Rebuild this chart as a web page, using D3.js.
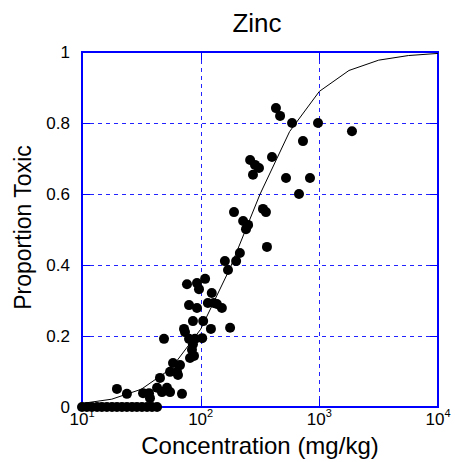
<!DOCTYPE html>
<html>
<head>
<meta charset="utf-8">
<script src="https://cdn.jsdelivr.net/npm/d3@7"></script>
<style>
  body { margin: 0; background: #fff; }
  text { font-family: "Liberation Sans", Arial, sans-serif; fill: #000; }
</style>
</head>
<body>
<svg id="chart"></svg>
<script>
// observed samples: concentration (mg/kg) and proportion toxic
var concentration = [
    10.0, 11.0, 12.1, 13.4, 14.7, 16.2, 17.9, 19.7, 21.7, 23.9, 26.4, 29.0, 32.0, 35.3, 38.9, 42.9,
    431, 467, 589, 975, 1884, 728, 261, 399, 287, 310, 276, 524, 834, 674,
    335, 355, 191, 228, 251, 241, 362, 214, 160, 199, 170,
    76.7, 93.1, 109, 96.8, 124, 79.8, 93.1, 115, 129, 137, 151,
    86.1, 105, 122, 177, 72.4, 73.8, 49.1, 79.8, 89.6, 103,
    86.1, 84.5, 87.9, 81.3, 58.5, 67.0, 55.2, 63.2, 64.4, 45.4,
    42.9, 52.0, 47.2, 55.2, 69.6, 19.7, 23.9, 32.7, 36.7, 37.4
];
var proportion = [
    0, 0, 0, 0, 0, 0, 0, 0, 0, 0, 0, 0, 0, 0, 0, 0,
    0.842, 0.820, 0.800, 0.800, 0.777, 0.749, 0.696, 0.704, 0.682, 0.673, 0.654, 0.645, 0.645, 0.600,
    0.558, 0.549, 0.549, 0.524, 0.513, 0.501, 0.451, 0.434, 0.411, 0.411, 0.386,
    0.346, 0.349, 0.361, 0.332, 0.321, 0.287, 0.279, 0.293, 0.293, 0.290, 0.279,
    0.242, 0.242, 0.220, 0.223, 0.220, 0.211, 0.192, 0.192, 0.192, 0.194,
    0.177, 0.161, 0.144, 0.138, 0.124, 0.118, 0.099, 0.099, 0.090, 0.082,
    0.054, 0.054, 0.042, 0.042, 0.037, 0.051, 0.037, 0.039, 0.039, 0.025
];

// fitted response curve
var curveConc = [10, 17.8, 31.6, 56.2, 100, 178, 316, 562, 1000, 1778, 3162, 5623, 10000];
var curveProp = [0.010, 0.022, 0.050, 0.108, 0.219, 0.393, 0.599, 0.776, 0.889, 0.948, 0.977, 0.990, 0.996];

var xTicks = [10, 100, 1000, 10000];
var yTicks = [0, 0.2, 0.4, 0.6, 0.8, 1];

var margin = {top: 52, right: 17, bottom: 55, left: 82};
var width = 455 - margin.left - margin.right;
var height = 462 - margin.top - margin.bottom;

var svg = d3.select("#chart")
    .attr("width", 455)
    .attr("height", 462);

var g = svg.append("g")
    .attr("transform", "translate(" + margin.left + "," + margin.top + ")");

var x = d3.scaleLog().domain([10, 10000]).range([0, width]);
var y = d3.scaleLinear().domain([0, 1]).range([height, 0]);

// dashed grid
g.selectAll(".vgrid").data(xTicks.slice(1, -1)).enter()
    .append("line")
    .attr("x1", function (d) {return Math.round(x(d)) + 0.5;})
    .attr("x2", function (d) {return Math.round(x(d)) + 0.5;})
    .attr("y1", 0)
    .attr("y2", height)
    .attr("stroke", "#2222ff")
    .attr("stroke-dasharray", "4,4");

g.selectAll(".hgrid").data(yTicks.slice(1, -1)).enter()
    .append("line")
    .attr("x1", 0)
    .attr("x2", width)
    .attr("y1", function (d) {return Math.round(y(d)) + 0.5;})
    .attr("y2", function (d) {return Math.round(y(d)) + 0.5;})
    .attr("stroke", "#2222ff")
    .attr("stroke-dasharray", "4,4");

// inner tick marks on all four sides
var tl = 8;
yTicks.forEach(function (d) {
    var yy = Math.round(y(d)) + 0.5;
    g.append("line").attr("x1", 0).attr("x2", tl).attr("y1", yy).attr("y2", yy).attr("stroke", "#0000ff");
    g.append("line").attr("x1", width - tl).attr("x2", width).attr("y1", yy).attr("y2", yy).attr("stroke", "#0000ff");
});
xTicks.forEach(function (d) {
    var xx = Math.round(x(d)) + 0.5;
    g.append("line").attr("x1", xx).attr("x2", xx).attr("y1", 0).attr("y2", tl).attr("stroke", "#0000ff");
    g.append("line").attr("x1", xx).attr("x2", xx).attr("y1", height - tl).attr("y2", height).attr("stroke", "#0000ff");
});

// frame
g.append("rect")
    .attr("width", width)
    .attr("height", height)
    .attr("fill", "none")
    .attr("stroke", "#0000ff")
    .attr("stroke-width", 2);

// fitted curve
var line = d3.line()
    .x(function (d) {return x(d[0]);})
    .y(function (d) {return y(d[1]);});

g.append("path")
    .datum(d3.zip(curveConc, curveProp))
    .attr("d", line)
    .attr("fill", "none")
    .attr("stroke", "#000")
    .attr("stroke-width", 1);

// points
g.selectAll(".pt").data(d3.zip(concentration, proportion)).enter()
    .append("circle")
    .attr("cx", function (d) {return x(d[0]);})
    .attr("cy", function (d) {return y(d[1]);})
    .attr("r", 5)
    .attr("fill", "#000");

// y tick labels
g.selectAll(".ylab").data(yTicks).enter()
    .append("text")
    .attr("x", -12)
    .attr("y", function (d) {return y(d);})
    .attr("dy", "0.35em")
    .attr("text-anchor", "end")
    .style("font-size", "17px")
    .text(function (d) {return d3.format("")(d);});

// x tick labels as powers of ten
var xl = g.selectAll(".xlab").data(xTicks).enter()
    .append("text")
    .attr("x", function (d) {return x(d);})
    .attr("y", height + 18)
    .attr("text-anchor", "middle")
    .style("font-size", "17px");
xl.append("tspan").text("10");
xl.append("tspan")
    .attr("dy", -8)
    .style("font-size", "11px")
    .text(function (d) {return Math.round(Math.log10(d));});

// titles
g.append("text")
    .attr("x", width / 2 - 3)
    .attr("y", -20)
    .attr("text-anchor", "middle")
    .style("font-size", "26px")
    .text("Zinc");

g.append("text")
    .attr("x", width / 2)
    .attr("y", height + 47)
    .attr("text-anchor", "middle")
    .style("font-size", "24px")
    .text("Concentration (mg/kg)");

g.append("text")
    .attr("transform", "translate(" + (-51) + "," + (height / 2 - 2) + ") rotate(-90)")
    .attr("text-anchor", "middle")
    .style("font-size", "23px")
    .text("Proportion Toxic");
</script>
</body>
</html>
